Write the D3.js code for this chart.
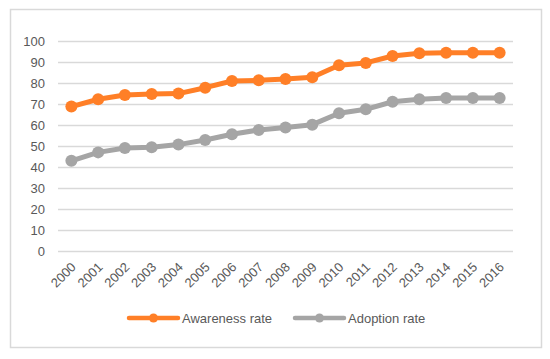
<!DOCTYPE html>
<html>
<head>
<meta charset="utf-8">
<script src="https://cdn.jsdelivr.net/npm/d3@7"></script>
<style>
  body { margin: 0; background: #fff; }
  text { font-family: "Liberation Sans", Arial, sans-serif; fill: #595959; }
</style>
</head>
<body>
<div id="chart"></div>
<script>
// data
const years = ["2000","2001","2002","2003","2004","2005","2006","2007","2008",
               "2009","2010","2011","2012","2013","2014","2015","2016"];
const awareness = [69, 72.5, 74.5, 75, 75.2, 78, 81.2, 81.5, 82.1, 83, 88.7, 89.8, 93.1, 94.4, 94.6, 94.6, 94.6];
const adoption = [43.2, 47.2, 49.3, 49.6, 50.9, 53.1, 55.8, 57.9, 59, 60.4, 65.8, 67.7, 71.3, 72.5, 73.1, 73.1, 73.1];
const yTicks = [0, 10, 20, 30, 40, 50, 60, 70, 80, 90, 100];

const series = [
    { name: "Awareness rate", values: awareness, color: "#FF7F27" },
    { name: "Adoption rate", values: adoption, color: "#A5A5A5" }
];

const W = 550, H = 359;
const margin = { top: 41.5, left: 58, right: 37, bottom: 107.5 };
const width = W - margin.left - margin.right;
const height = H - margin.top - margin.bottom;

const svg = d3.select("#chart").append("svg")
    .attr("width", W)
    .attr("height", H);

// outer frame
svg.append("rect")
    .attr("x", 10.5).attr("y", 9.5)
    .attr("width", 531).attr("height", 338)
    .attr("fill", "#fff")
    .attr("stroke", "#d9d9d9")
    .attr("stroke-width", 1.5);

const g = svg.append("g")
    .attr("transform", `translate(${margin.left},${margin.top})`);

const x = d3.scaleBand().domain(years).range([0, width]);
const y = d3.scaleLinear().domain([0, 100]).range([height, 0]);

// gridlines
g.selectAll(".grid")
    .data(yTicks)
    .enter().append("line")
    .attr("x1", 0).attr("x2", width)
    .attr("y1", d => y(d)).attr("y2", d => y(d))
    .attr("stroke", "#d9d9d9")
    .attr("stroke-width", 1.5);

// y axis labels
const yAxis = g.append("g")
    .call(d3.axisLeft(y).tickValues(yTicks).tickSize(0).tickPadding(13));
yAxis.select(".domain").remove();
yAxis.selectAll("text")
    .attr("font-size", 13)
    .attr("font-family", "Liberation Sans, Arial, sans-serif")
    .attr("fill", "#595959");

// x axis labels
const xAxis = g.append("g")
    .attr("transform", `translate(0,${height})`)
    .call(d3.axisBottom(x).tickSize(0));
xAxis.select(".domain").remove();
xAxis.selectAll("text")
    .attr("font-size", 13)
    .attr("font-family", "Liberation Sans, Arial, sans-serif")
    .attr("fill", "#595959")
    .attr("text-anchor", "end")
    .attr("dy", "0.35em")
    .attr("transform", "translate(0,11) rotate(-45)");

// lines + markers
const line = d3.line()
    .x((d, i) => x(years[i]) + x.bandwidth() / 2)
    .y(d => y(d));

series.forEach(s => {
    g.append("path")
        .datum(s.values)
        .attr("d", line)
        .attr("fill", "none")
        .attr("stroke", s.color)
        .attr("stroke-width", 5)
        .attr("stroke-linejoin", "round");

    g.selectAll(null)
        .data(s.values)
        .enter().append("circle")
        .attr("cx", (d, i) => x(years[i]) + x.bandwidth() / 2)
        .attr("cy", d => y(d))
        .attr("r", 6)
        .attr("fill", s.color);
});

// legend
const legendX = [129, 295];
const legend = svg.selectAll(".legend")
    .data(series)
    .enter().append("g")
    .attr("transform", (d, i) => `translate(${legendX[i]},318)`);

legend.append("line")
    .attr("x1", 0).attr("x2", 49)
    .attr("stroke", d => d.color)
    .attr("stroke-width", 4.5)
    .attr("stroke-linecap", "round");

legend.append("circle")
    .attr("cx", 24.5)
    .attr("r", 4.5)
    .attr("fill", d => d.color);

legend.append("text")
    .attr("x", 53)
    .attr("dy", "0.35em")
    .attr("font-size", 13)
    .text(d => d.name);
</script>
</body>
</html>
